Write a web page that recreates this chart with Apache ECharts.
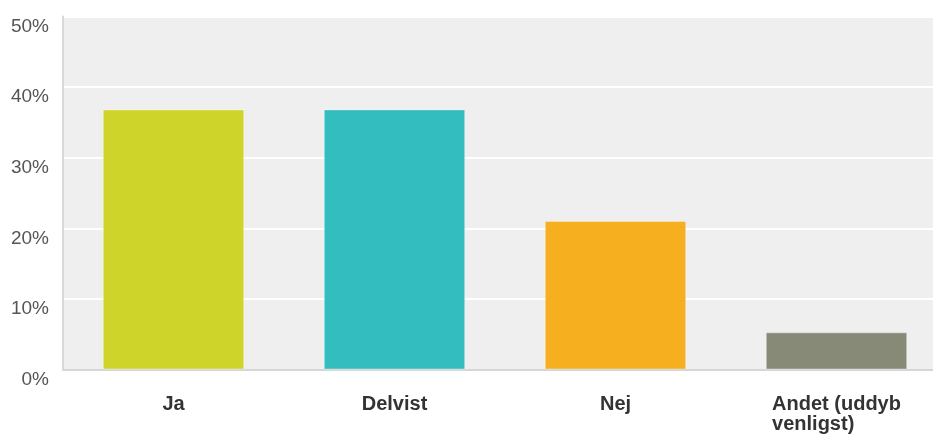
<!DOCTYPE html>
<html>
<head>
<meta charset="utf-8">
<script src="https://cdn.jsdelivr.net/npm/echarts@6/dist/echarts.min.js"></script>
<style>
  html, body { margin: 0; padding: 0; background: #ffffff; }
  #chart { width: 933px; height: 436px; }
</style>
</head>
<body>
<div id="chart"></div>
<script>
// Survey answers (share of respondents, %)
const categories = ['Ja', 'Delvist', 'Nej', 'Andet (uddyb\nvenligst)'];
const values = [36.84, 36.84, 21.05, 5.26];
const barColors = ['#cfd42a', '#34bdbf', '#f6af1f', '#888a78'];
const yTicks = { min: 0, max: 50, interval: 10 };

const chart = echarts.init(document.getElementById('chart'), null, { renderer: 'canvas' });

chart.setOption({
  animation: false,
  grid: {
    left: 63,
    top: 16.5,
    width: 884,
    height: 353,
    outerBoundsMode: 'none',
    containLabel: false,
    show: true,
    backgroundColor: '#efefef',
    borderWidth: 0
  },
  xAxis: {
    type: 'category',
    data: categories,
    axisTick: { show: false },
    axisLine: { show: true, lineStyle: { color: '#d6d6d6', width: 2 } },
    axisLabel: {
      interval: 0,
      margin: 25,
      formatter: v => '{a|' + v + '}',
      rich: {
        a: {
          align: 'left',
          fontFamily: '"Liberation Sans", Arial, sans-serif',
          fontWeight: 'bold',
          fontSize: 20,
          lineHeight: 20,
          color: '#333333'
        }
      }
    }
  },
  yAxis: {
    type: 'value',
    min: yTicks.min,
    max: yTicks.max,
    interval: yTicks.interval,
    axisTick: { show: false },
    axisLine: { show: true, lineStyle: { color: '#d9d9d9', width: 2 } },
    splitLine: { show: true, lineStyle: { color: '#ffffff', width: 2 } },
    axisLabel: {
      formatter: '{value}%',
      margin: 14,
      fontFamily: '"Liberation Sans", Arial, sans-serif',
      fontSize: 19,
      lineHeight: 20,
      verticalAlign: 'top',
      color: '#555555'
    }
  },
  series: [{
    type: 'bar',
    data: values.map((v, i) => ({
      value: v,
      itemStyle: { color: barColors[i], borderColor: 'rgba(255,255,255,0.35)', borderWidth: 1 }
    })),
    barCategoryGap: '36%',
    label: { show: false }
  }]
});
</script>
</body>
</html>
